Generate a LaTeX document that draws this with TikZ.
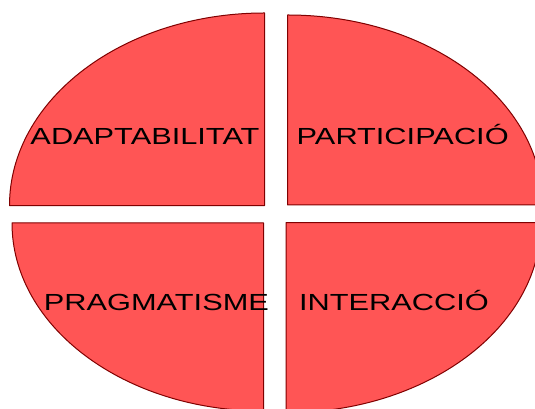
\documentclass[tikz,border=0pt]{standalone}
\usepackage{fontspec}
\setmainfont{Liberation Sans}
\definecolor{quadfill}{HTML}{FF5555}
\definecolor{quadline}{HTML}{800000}

\begin{document}
\begin{tikzpicture}[
    x=1pt, y=1pt,
    quad/.style={draw=quadline, fill=quadfill, line width=1pt, line join=round},
    lbl/.style={anchor=base, inner sep=0pt, xscale=1.32,
                font=\fontsize{23.3}{28}\selectfont}
  ]
    \clip (0,0) rectangle (535,409);
    \draw[quad] (264.5,203.4) -- (9.5,203.4)
      arc[start angle=180, end angle=90, x radius=255, y radius=192.6] -- cycle;
    \draw[quad] (287.7,204) -- (287.7,394)
      arc[start angle=90, end angle=0, x radius=255, y radius=190] -- cycle;
    \draw[quad] (263.5,186) -- (12,186)
      arc[start angle=180, end angle=270, x radius=251.5, y radius=188] -- cycle;
    \draw[quad] (286,186.3) -- (541,186.3)
      arc[start angle=0, end angle=-90, x radius=255, y radius=190] -- cycle;
    \node[lbl] (adapt) at (145,264) {ADAPTABILITAT};
    \node[lbl] (partic) at (402.7,264) {PARTICIPACIÓ};
    \node[lbl] (pragma) at (156.4,98) {PRAGMATISME};
    \node[lbl] (inter) at (393.9,98) {INTERACCIÓ};
\end{tikzpicture}
\end{document}
